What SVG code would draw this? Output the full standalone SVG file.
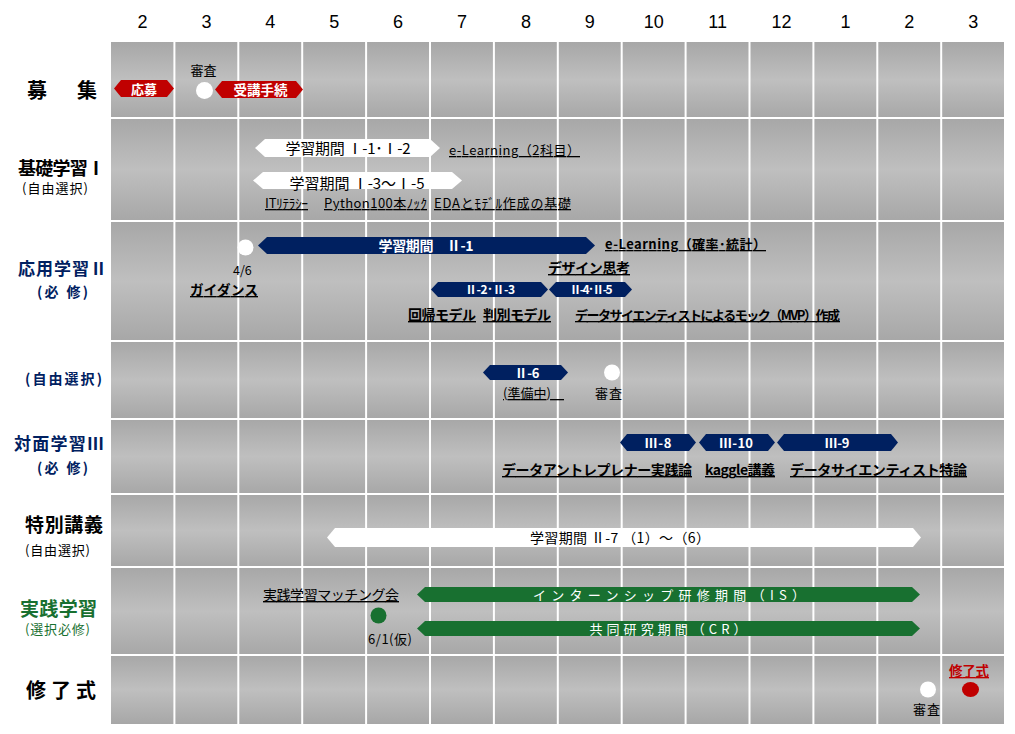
<svg xmlns="http://www.w3.org/2000/svg" width="1015" height="734" viewBox="0 0 1015 734">
<defs>
<linearGradient id="rowg" x1="0" y1="0" x2="0" y2="1">
<stop offset="0" stop-color="#a7a7a7"/>
<stop offset="0.5" stop-color="#bfbfbf"/>
<stop offset="1" stop-color="#a7a7a7"/>
</linearGradient>
</defs>
<style>
text{font-family:"Noto Sans CJK JP","Noto Sans CJK SC",sans-serif;fill:#000}
.m{font-family:"Liberation Sans",Arial,sans-serif;font-size:18px;text-anchor:middle}
.b{font-weight:bold}
.u{text-decoration:underline}
.c{text-anchor:middle}
.w{fill:#fff}
.navy{fill:#002060}
.red{fill:#c00000}
.green{fill:#187030}
.wb{fill:#fff}
.row{fill:url(#rowg)}
.gl{stroke:#fff;stroke-width:2}
.s13{font-size:13px}
.s14{font-size:14px}
</style>
<rect x="0" y="0" width="1015" height="734" fill="#fff"/>
<g id="grid">
<rect class="row" x="111" y="42" width="893" height="76"/>
<rect class="row" x="111" y="118" width="893" height="103"/>
<rect class="row" x="111" y="221" width="893" height="120"/>
<rect class="row" x="111" y="341" width="893" height="78"/>
<rect class="row" x="111" y="419" width="893" height="75"/>
<rect class="row" x="111" y="494" width="893" height="73"/>
<rect class="row" x="111" y="567" width="893" height="88"/>
<rect class="row" x="111" y="655" width="893" height="69"/>
<g class="gl">
<line x1="174.4" y1="42" x2="174.4" y2="724"/>
<line x1="238.3" y1="42" x2="238.3" y2="724"/>
<line x1="302.2" y1="42" x2="302.2" y2="724"/>
<line x1="366.1" y1="42" x2="366.1" y2="724"/>
<line x1="430" y1="42" x2="430" y2="724"/>
<line x1="493.9" y1="42" x2="493.9" y2="724"/>
<line x1="557.8" y1="42" x2="557.8" y2="724"/>
<line x1="621.7" y1="42" x2="621.7" y2="724"/>
<line x1="685.6" y1="42" x2="685.6" y2="724"/>
<line x1="749.5" y1="42" x2="749.5" y2="724"/>
<line x1="813.4" y1="42" x2="813.4" y2="724"/>
<line x1="877.3" y1="42" x2="877.3" y2="724"/>
<line x1="941.2" y1="42" x2="941.2" y2="724"/>
<line x1="111" y1="118" x2="1004" y2="118"/>
<line x1="111" y1="221" x2="1004" y2="221"/>
<line x1="111" y1="341" x2="1004" y2="341"/>
<line x1="111" y1="419" x2="1004" y2="419"/>
<line x1="111" y1="494" x2="1004" y2="494"/>
<line x1="111" y1="567" x2="1004" y2="567"/>
<line x1="111" y1="655" x2="1004" y2="655"/>
</g>
</g>
<g id="months">
<text class="m" x="142.5" y="28">2</text>
<text class="m" x="206.4" y="28">3</text>
<text class="m" x="270.3" y="28">4</text>
<text class="m" x="334.2" y="28">5</text>
<text class="m" x="398.1" y="28">6</text>
<text class="m" x="462" y="28">7</text>
<text class="m" x="525.9" y="28">8</text>
<text class="m" x="589.8" y="28">9</text>
<text class="m" x="653.7" y="28">10</text>
<text class="m" x="717.6" y="28">11</text>
<text class="m" x="781.5" y="28">12</text>
<text class="m" x="845.4" y="28">1</text>
<text class="m" x="909.3" y="28">2</text>
<text class="m" x="973.2" y="28">3</text>
</g>
<g id="row-labels">
<g id="lbl-boshu"><text class="b" x="27" y="98" font-size="20" textLength="70">募　集</text></g>
<g id="lbl-kiso"><text class="b" x="18" y="175" font-size="18" textLength="87">基礎学習Ⅰ</text>
<text x="22" y="193" font-size="13" textLength="66">(自由選択)</text></g>
<g id="lbl-oyo"><text class="b navy" x="18" y="275" font-size="17" textLength="89">応用学習Ⅱ</text>
<text class="b navy" x="37" y="297" font-size="14" textLength="51">(必 修)</text></g>
<g id="lbl-jiyu"><text class="b navy" x="25" y="384" font-size="14" textLength="77">(自由選択)</text></g>
<g id="lbl-taimen"><text class="b navy" x="14" y="450" font-size="17" textLength="90">対面学習Ⅲ</text>
<text class="b navy" x="37" y="473" font-size="14" textLength="51">(必 修)</text></g>
<g id="lbl-tokubetsu"><text class="b" x="25" y="532" font-size="19" textLength="78">特別講義</text>
<text x="25" y="555" font-size="13" textLength="65">(自由選択)</text></g>
<g id="lbl-jissen"><text class="b green" x="20" y="616" font-size="19" textLength="77">実践学習</text>
<text class="green" x="25" y="634" font-size="13" textLength="65">(選択必修)</text></g>
<g id="lbl-shuryo"><text class="b" x="26" y="698" font-size="20" textLength="70">修 了 式</text></g>
</g>
<g id="connectors"></g>
<g id="n-oubo"><path class="red" d="M114 88.5 L121 80 H167 L174 88.5 L167 97 H121 Z"/><text class="b w c" x="144" y="93.5" font-size="13">応募</text></g>
<g id="n-shinsa1"><text class="c s13" x="203.5" y="75">審査</text><circle cx="204.5" cy="90.5" r="8.5" fill="#fff"/></g>
<g id="n-juko"><path class="red" d="M215 89.5 L222 81 H296 L303 89.5 L296 98 H222 Z"/><text class="b w c" x="260.5" y="94.5" font-size="13.5">受講手続</text></g>
<g id="n-i12"><path class="wb" d="M255 148 L265 139 H430 L440 148 L430 157 H265 Z"/><text class="c" x="348" y="154" font-size="15" textLength="125">学習期間 Ⅰ-1･Ⅰ-2</text></g>
<g id="n-elearn1"><text class="u s13" x="449" y="155" textLength="131">e-Learning（2科目）</text></g>
<g id="n-i35"><path class="wb" d="M253 180.5 L263 172 H452 L462 180.5 L452 189 H263 Z"/><text class="c" x="357" y="188.5" font-size="15" textLength="135">学習期間 Ⅰ-3～Ⅰ-5</text></g>
<g id="n-it"><text class="u s13" x="265" y="208" textLength="43">ITﾘﾃﾗｼｰ</text></g>
<g id="n-python"><text class="u s13" x="324" y="208" textLength="103">Python100本ﾉｯｸ</text></g>
<g id="n-eda"><text class="u s13" x="434" y="208" textLength="137">EDAとﾓﾃﾞﾙ作成の基礎</text></g>
<g id="n-guidance"><circle cx="245.5" cy="247.5" r="8" fill="#fff"/><text x="233" y="275" font-size="12.5" fill="#333">4/6</text><text class="b u" x="190" y="295" font-size="13.5" textLength="68">ガイダンス</text></g>
<g id="n-ii1"><path class="navy" d="M258 245.5 L267 237 H586 L595 245.5 L586 254 H267 Z"/><text class="b w c" x="426" y="251" font-size="14" textLength="95">学習期間　Ⅱ-1</text></g>
<g id="n-elearn2"><text class="b u s13" x="605" y="249" textLength="161">e-Learning（確率･統計）</text></g>
<g id="n-design"><text class="b u" x="548" y="273" font-size="14" textLength="82">デザイン思考</text></g>
<g id="n-ii23"><path class="navy" d="M431 289.5 L438 282 H541 L548 289.5 L541 297 H438 Z"/><text class="b w c" x="490" y="294" font-size="12" textLength="50">Ⅱ-2･Ⅱ-3</text></g>
<g id="n-ii45"><path class="navy" d="M549 289.5 L556 282 H625 L632 289.5 L625 297 H556 Z"/><text class="b w c" x="591" y="294" font-size="12" textLength="43">Ⅱ-4･Ⅱ-5</text></g>
<g id="n-kaiki"><text class="b u" x="408" y="320" font-size="14" textLength="68">回帰モデル</text></g>
<g id="n-hanbetsu"><text class="b u" x="483" y="320" font-size="14" textLength="68">判別モデル</text></g>
<g id="n-mock"><text class="b u" x="575" y="320" font-size="13" textLength="265">データサイエンティストによるモック（MVP）作成</text></g>
<g id="n-ii6"><path class="navy" d="M483 372.5 L490 365 H561 L568 372.5 L561 380 H490 Z"/><text class="b w c" x="527" y="377.5" font-size="13" textLength="25">Ⅱ-6</text><text class="u s13" x="503" y="398" textLength="61">(準備中)　</text></g>
<g id="n-shinsa2"><circle cx="612" cy="372.5" r="8" fill="#fff"/><text class="s13" x="595" y="398" textLength="27">審査</text></g>
<g id="n-iii8"><path class="navy" d="M620 442.5 L627 434 H689 L696 442.5 L689 451 H627 Z"/><text class="b w c" x="658" y="448" font-size="13" textLength="27">Ⅲ-8</text><text class="b u" x="502" y="475" font-size="14" textLength="190">データアントレプレナー実践論</text></g>
<g id="n-iii10"><path class="navy" d="M699 442.5 L706 434 H768 L775 442.5 L768 451 H706 Z"/><text class="b w c" x="736" y="448" font-size="13" textLength="34">Ⅲ-10</text><text class="b u" x="705" y="475" font-size="14" textLength="70">kaggle講義</text></g>
<g id="n-iii9"><path class="navy" d="M777 442.5 L784 434 H891 L898 442.5 L891 451 H784 Z"/><text class="b w c" x="837" y="448" font-size="13" textLength="25">Ⅲ-9</text><text class="b u" x="790" y="475" font-size="14" textLength="177">データサイエンティスト特論</text></g>
<g id="n-ii7"><path class="wb" d="M327 537.5 L335 528 H913 L921 537.5 L913 547 H335 Z"/><text class="c" x="620" y="543" font-size="14" textLength="180">学習期間 Ⅱ-7 （1）～（6）</text></g>
<g id="n-matching"><text class="u" x="263" y="600" font-size="14" textLength="136">実践学習マッチング会</text><circle cx="378.5" cy="615.5" r="8" fill="#187030"/><text class="s13" x="368" y="644" fill="#222" textLength="44">6/1(仮)</text></g>
<g id="n-is"><path class="green" d="M417 594.5 L425 587 H912 L920 594.5 L912 602 H425 Z"/><text class="w c" x="669" y="599.5" font-size="13" textLength="272">インターンシップ研修期間（IS）</text></g>
<g id="n-cr"><path class="green" d="M417 628.5 L425 621 H912 L920 628.5 L912 636 H425 Z"/><text class="w c" x="668" y="633.5" font-size="13" textLength="157">共同研究期間（CR）</text></g>
<g id="n-shinsa3"><circle cx="928" cy="689.5" r="8" fill="#fff"/><text class="s13" x="913" y="714" textLength="27">審査</text></g>
<g id="n-shuryoshiki"><text class="b u red" x="949" y="676" font-size="13.5" textLength="40">修了式</text><ellipse cx="970.5" cy="689.5" rx="8.5" ry="7.5" fill="#c00000"/></g>
</svg>
